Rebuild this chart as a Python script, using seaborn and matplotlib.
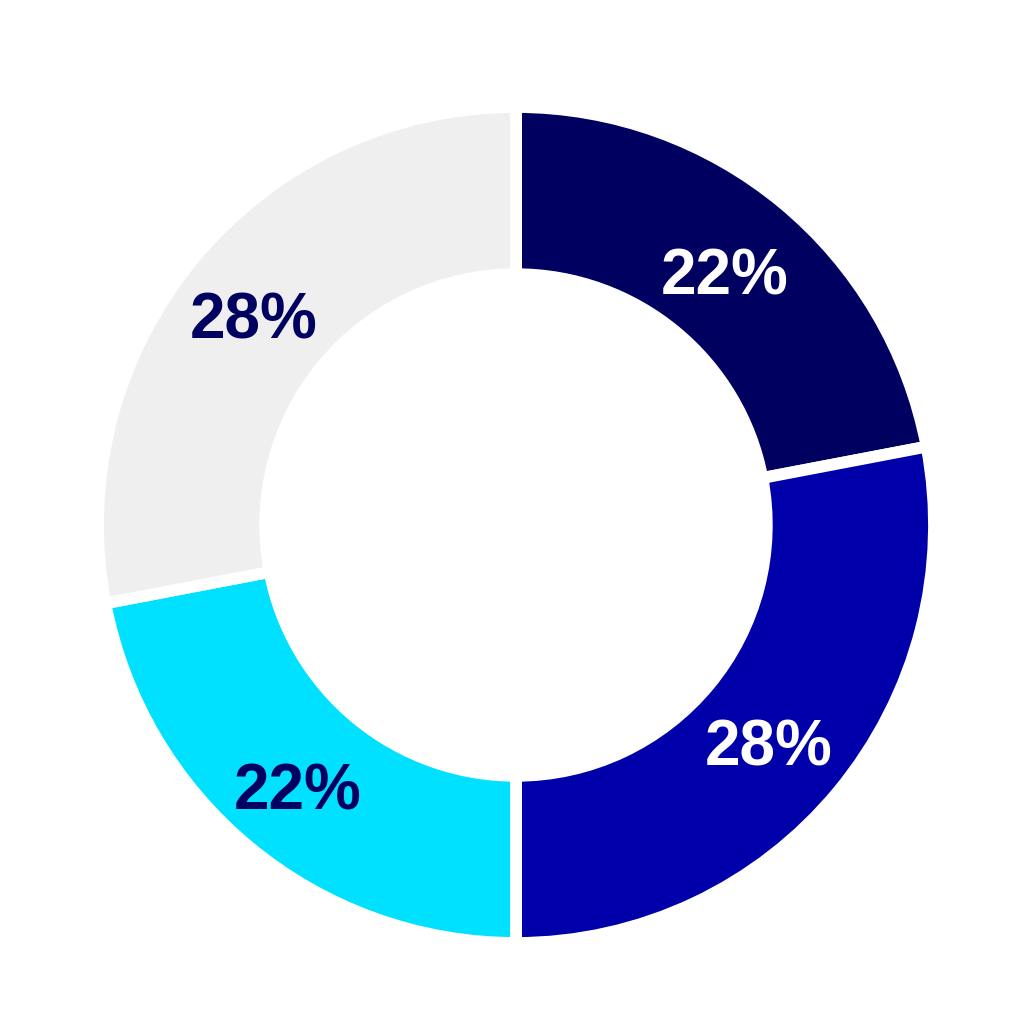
import matplotlib
matplotlib.use("Agg")
import matplotlib.pyplot as plt
import seaborn as sns

labels = ["A", "B", "C", "D"]
values = [22, 28, 22, 28]
colors = ["#000060", "#0000AA", "#00E1FF", "#EFEFEF"]
text_colors = ["white", "white", "#000060", "#000060"]

sns.set_theme(style="white")
plt.rcParams['font.family'] = ['Liberation Sans', 'DejaVu Sans']

fig = plt.figure(figsize=(10.32, 10.32), dpi=100)
fig.patch.set_facecolor("white")
ax = fig.add_axes([0, 0, 1, 1])

wedges, texts, autotexts = ax.pie(
    values, colors=colors, startangle=90, counterclock=False,
    radius=1.0, autopct=lambda p: f"{p:.0f}%", pctdistance=0.80,
    wedgeprops=dict(width=0.40, edgecolor="white", linewidth=8.5),
    textprops=dict(fontsize=46, fontweight="bold"),
)
s = 412.0 + 6
for t, c in zip(autotexts, text_colors):
    t.set_color(c)
    x, y = t.get_position()
    t.set_position((x - 5 / s, y - 10 / s))

ax.set_xlim(-516 / s, 516 / s)
ax.set_ylim(-507 / s, 525 / s)
ax.set_aspect("equal")
ax.axis("off")

fig.savefig("out.png", dpi=100, facecolor="white")
